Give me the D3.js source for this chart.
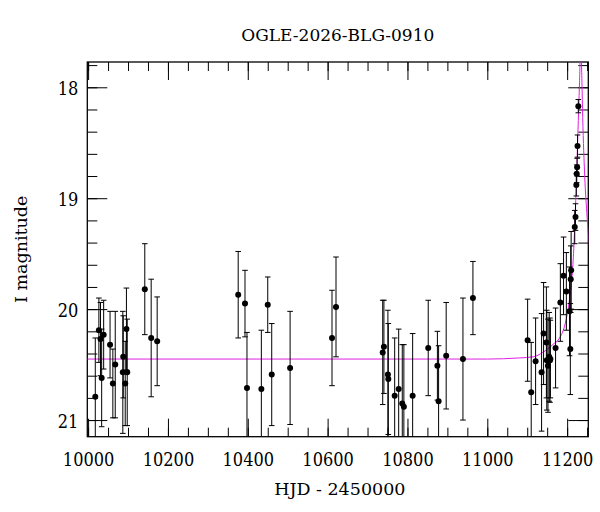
<!DOCTYPE html>
<html>
<head>
<meta charset="utf-8">
<script src="https://cdn.jsdelivr.net/npm/d3@7"></script>
<style>
  html, body { margin: 0; padding: 0; background: #fff; }
  svg { display: block; }
  text { fill: #000; }
</style>
</head>
<body>
<svg id="chart" width="600" height="512"></svg>
<script>
// ---- data ----
const title = "OGLE-2026-BLG-0910";
const xLabel = "HJD - 2450000";
const yLabel = "I magnitude";

const hjd = [10018, 10027, 10031, 10034, 10039, 10055, 10062, 10068, 10087, 10088,
             10093, 10096, 10098, 10142, 10158, 10173, 10376, 10393, 10398, 10434,
             10450, 10460, 10506, 10611, 10621, 10738, 10741, 10751, 10752, 10768,
             10778, 10787, 10791, 10813, 10852, 10875, 10878, 10897, 10939, 10964,
             11101, 11110, 11121, 11136, 11141, 11148, 11149, 11152, 11155, 11157,
             11158, 11171, 11183, 11191, 11198, 11206, 11208, 11209, 11210, 11219,
             11221, 11223, 11224, 11225, 11226, 11228];
const mag = [20.79, 20.19, 20.27, 20.62, 20.23, 20.32, 20.67, 20.50, 20.57, 20.43,
             20.67, 20.18, 20.57, 19.82, 20.26, 20.29, 19.87, 19.95, 20.71, 20.72,
             19.96, 20.59, 20.53, 20.26, 19.98, 20.39, 20.34, 20.59, 20.63, 20.78,
             20.72, 20.85, 20.88, 20.78, 20.35, 20.51, 20.83, 20.42, 20.45, 19.90,
             20.28, 20.75, 20.47, 20.57, 20.22, 20.30, 20.46, 20.51, 20.43, 20.46,
             20.45, 20.35, 19.94, 19.70, 19.84, 20.02, 20.36, 19.73, 19.65, 19.26,
             19.17, 18.88, 18.78, 18.72, 18.53, 18.17];
const magErr = [0.53, 0.29, 0.33, 0.44, 0.31, 0.30, 0.31, 0.48, 0.55, 0.37,
                0.38, 0.37, 0.48, 0.41, 0.53, 0.40, 0.39, 0.30, 0.50, 0.53,
                0.25, 0.46, 0.51, 0.43, 0.45, 0.47, 0.42, 0.58, 0.50, 0.52,
                0.54, 0.53, 0.56, 0.56, 0.43, 0.31, 0.50, 0.48, 0.55, 0.33,
                0.37, 0.45, 0.39, 0.53, 0.46, 0.50, 0.45, 0.42, 0.40, 0.38,
                0.35, 0.36, 0.35, 0.35, 0.35, 0.40, 0.41, 0.30, 0.35, 0.15,
                0.12, 0.10, 0.08, 0.08, 0.10, 0.06];

// fitted model curve
const modelT   = [9998, 11000, 11080, 11115, 11139, 11164, 11181, 11193, 11202, 11207,
                  11212, 11216, 11220, 11223, 11227, 11231, 11234, 11237, 11239, 11244,
                  11250, 11256];
const modelMag = [20.45, 20.45, 20.44, 20.43, 20.39, 20.32, 20.26, 20.16, 20.01, 19.88,
                  19.72, 19.50, 19.17, 18.86, 18.41, 17.96, 17.60, 17.95, 18.27, 18.80,
                  19.17, 19.45];

const xMajorTicks = [10000, 10200, 10400, 10600, 10800, 11000, 11200];
const yMajorTicks = [18, 19, 20, 21];

// ---- layout ----
const svg = d3.select("#chart");
const L = 87.3, R = 588.3, T = 62, B = 436.7;
const labelFont = "'DejaVu Serif', serif";
const tickFont = "'DejaVu Serif Condensed', 'DejaVu Serif', serif";

const x = d3.scaleLinear().domain([9998, 11253]).range([L, R]);
const y = d3.scaleLinear().domain([17.772, 21.15]).range([T, B]);

const xMinor = d3.range(10000, 11251, 50);
const yMinor = d3.range(17.8, 21.15, 0.2).map(v => +v.toFixed(2));

svg.append("defs").append("clipPath").attr("id", "plotclip")
  .append("rect").attr("x", L).attr("y", T).attr("width", R - L).attr("height", B - T);

function styleAxis(g) {
  g.select(".domain").remove();
  g.selectAll("line").attr("stroke", "#000").attr("stroke-width", 1);
}

// bottom
svg.append("g").attr("transform", `translate(0,${B})`)
  .call(d3.axisBottom(x).tickValues(xMinor).tickSize(-9).tickFormat(""))
  .call(styleAxis);
const bx = svg.append("g").attr("transform", `translate(0,${B})`)
  .call(d3.axisBottom(x).tickValues(xMajorTicks).tickSize(-18).tickFormat(d3.format("d")))
  .call(styleAxis);
bx.attr("font-family", null).attr("font-size", null);
bx.selectAll("text").attr("y", 29).attr("dy", 0)
  .style("font-family", tickFont).style("font-size", "18px");
// top
svg.append("g").attr("transform", `translate(0,${T})`)
  .call(d3.axisTop(x).tickValues(xMinor).tickSize(-9).tickFormat(""))
  .call(styleAxis);
svg.append("g").attr("transform", `translate(0,${T})`)
  .call(d3.axisTop(x).tickValues(xMajorTicks).tickSize(-18).tickFormat(""))
  .call(styleAxis);
// left
svg.append("g").attr("transform", `translate(${L},0)`)
  .call(d3.axisLeft(y).tickValues(yMinor).tickSize(-10).tickFormat(""))
  .call(styleAxis);
const ly = svg.append("g").attr("transform", `translate(${L},0)`)
  .call(d3.axisLeft(y).tickValues(yMajorTicks).tickSize(-20).tickFormat(d3.format("d")))
  .call(styleAxis);
ly.selectAll("text").attr("x", -9).attr("dy", 7.7)
  .style("font-family", tickFont).style("font-size", "18px");
// right
svg.append("g").attr("transform", `translate(${R},0)`)
  .call(d3.axisRight(y).tickValues(yMinor).tickSize(-10).tickFormat(""))
  .call(styleAxis);
svg.append("g").attr("transform", `translate(${R},0)`)
  .call(d3.axisRight(y).tickValues(yMajorTicks).tickSize(-20).tickFormat(""))
  .call(styleAxis);

// frame
svg.append("rect").attr("x", L).attr("y", T).attr("width", R - L).attr("height", B - T)
  .attr("fill", "none").attr("stroke", "#000").attr("stroke-width", 1.3);

// ---- plot content ----
const plot = svg.append("g").attr("clip-path", "url(#plotclip)");

// model curve
const model = modelT.map((t, i) => [t, modelMag[i]]);
plot.append("path").datum(model)
  .attr("fill", "none").attr("stroke", "#e020e0").attr("stroke-width", 1)
  .attr("d", d3.line().x(d => x(d[0])).y(d => y(d[1])).curve(d3.curveMonotoneX));

const pts = hjd.map((t, i) => ({ t, m: mag[i], e: magErr[i] }));
const capW = 2.8;
const eg = plot.append("g").attr("stroke", "#000").attr("stroke-width", 1);
pts.forEach(p => {
  const cx = x(p.t), y1 = y(p.m - p.e), y2 = y(p.m + p.e);
  eg.append("line").attr("x1", cx).attr("x2", cx).attr("y1", y1).attr("y2", y2);
  eg.append("line").attr("x1", cx - capW).attr("x2", cx + capW).attr("y1", y1).attr("y2", y1);
  eg.append("line").attr("x1", cx - capW).attr("x2", cx + capW).attr("y1", y2).attr("y2", y2);
});
plot.append("g").selectAll("circle").data(pts).join("circle")
  .attr("cx", d => x(d.t)).attr("cy", d => y(d.m)).attr("r", 3).attr("fill", "#000");

// ---- labels ----
svg.append("text").attr("x", (L + R) / 2).attr("y", 41).attr("text-anchor", "middle")
  .style("font-family", labelFont).style("font-size", "17px").text(title);
svg.append("text").attr("x", (L + R) / 2 + 2).attr("y", 495).attr("text-anchor", "middle")
  .style("font-family", labelFont).style("font-size", "17.5px").text(xLabel);
svg.append("text").attr("transform", `translate(27,${(T + B) / 2}) rotate(-90)`)
  .attr("text-anchor", "middle")
  .style("font-family", labelFont).style("font-size", "17.5px").text(yLabel);
</script>
</body>
</html>
